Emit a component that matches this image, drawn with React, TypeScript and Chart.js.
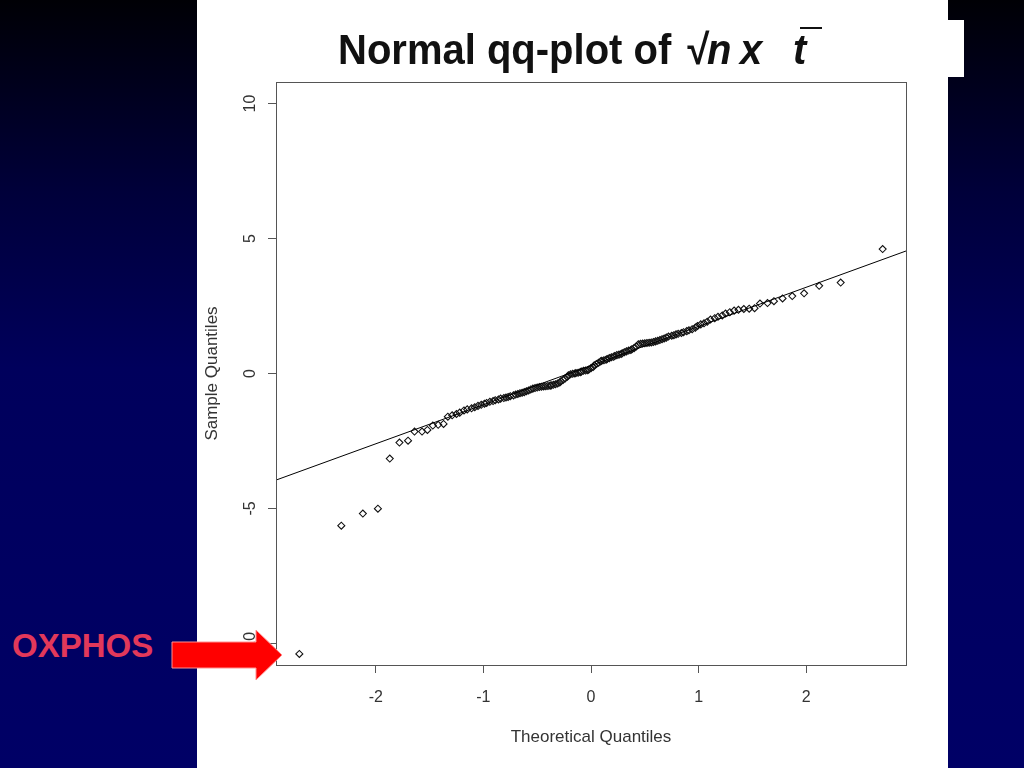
import React, { useEffect, useRef } from "react";
import { Chart, registerables } from "chart.js";

Chart.register(...registerables);

// Theoretical normal quantiles (x) of the 147 gene-set statistics
const theoreticalQuantiles = [
  -2.71, -2.32, -2.12, -1.98, -1.87, -1.78, -1.7, -1.64, -1.57, -1.52,
  -1.47, -1.42, -1.37, -1.33, -1.29, -1.25, -1.22, -1.18, -1.15, -1.11,
  -1.08, -1.05, -1.02, -0.99, -0.97, -0.94, -0.91, -0.89, -0.86, -0.84,
  -0.81, -0.79, -0.77, -0.75, -0.72, -0.7, -0.68, -0.66, -0.64, -0.62,
  -0.6, -0.58, -0.56, -0.54, -0.52, -0.5, -0.48, -0.46, -0.44, -0.42,
  -0.4, -0.38, -0.37, -0.35, -0.33, -0.31, -0.29, -0.28, -0.26, -0.24,
  -0.22, -0.21, -0.19, -0.17, -0.15, -0.14, -0.12, -0.1, -0.09, -0.07,
  -0.05, -0.03, -0.02, 0.0,
  0.02, 0.03, 0.05, 0.07, 0.09, 0.1, 0.12, 0.14, 0.15, 0.17,
  0.19, 0.21, 0.22, 0.24, 0.26, 0.28, 0.29, 0.31, 0.33, 0.35,
  0.37, 0.38, 0.4, 0.42, 0.44, 0.46, 0.48, 0.5, 0.52, 0.54,
  0.56, 0.58, 0.6, 0.62, 0.64, 0.66, 0.68, 0.7, 0.72, 0.75,
  0.77, 0.79, 0.81, 0.84, 0.86, 0.89, 0.91, 0.94, 0.97, 0.99,
  1.02, 1.05, 1.08, 1.11, 1.15, 1.18, 1.22, 1.25, 1.29, 1.33,
  1.37, 1.42, 1.47, 1.52, 1.57, 1.64, 1.7, 1.78, 1.87, 1.98,
  2.12, 2.32, 2.71,
];

// Sample quantiles (y), sorted
const sampleQuantiles = [
  -10.39, -5.64, -5.19, -5.01, -3.15, -2.56, -2.49, -2.15, -2.15, -2.09,
  -1.93, -1.9, -1.87, -1.6, -1.55, -1.5, -1.45, -1.37, -1.33, -1.29,
  -1.25, -1.2, -1.16, -1.12, -1.09, -1.05, -1.02, -0.99, -0.96, -0.93,
  -0.91, -0.89, -0.87, -0.84, -0.81, -0.78, -0.76, -0.73, -0.71, -0.69,
  -0.66, -0.63, -0.59, -0.56, -0.54, -0.52, -0.5, -0.49, -0.48, -0.47,
  -0.46, -0.45, -0.44, -0.42, -0.4, -0.37, -0.33, -0.29, -0.24, -0.18,
  -0.12, -0.07, -0.03, -0.01, 0.0, 0.02, 0.03, 0.05, 0.07, 0.1,
  0.11, 0.12, 0.15, 0.2,
  0.24, 0.3, 0.35, 0.4, 0.45, 0.47, 0.49, 0.51, 0.54, 0.57,
  0.6, 0.62, 0.65, 0.68, 0.7, 0.72, 0.75, 0.79, 0.82, 0.85,
  0.87, 0.9, 0.94, 1.0, 1.08, 1.1, 1.11, 1.12, 1.13, 1.14,
  1.15, 1.17, 1.19, 1.21, 1.24, 1.27, 1.3, 1.33, 1.37, 1.4,
  1.42, 1.45, 1.47, 1.5, 1.53, 1.57, 1.6, 1.64, 1.7, 1.76,
  1.82, 1.86, 1.92, 2.0, 2.05, 2.1, 2.15, 2.22, 2.27, 2.33,
  2.36, 2.39, 2.4, 2.42, 2.59, 2.61, 2.68, 2.78, 2.87, 2.97,
  3.25, 3.37, 4.61,
];

// qqline through the quartiles
const qqLineIntercept = 0.295;
const qqLineSlope = 1.45;

const xLimits = [-2.927, 2.927];
const yLimits = [-10.8, 10.8];
const xTickStep = 1;
const yTickStep = 5;

const xAxisTitle = "Theoretical Quantiles";
const yAxisTitle = "Sample Quantiles";

const FONT = "'Liberation Sans', Arial, sans-serif";

const boxPlugin = {
  id: "rbox",
  afterDatasetsDraw(chart: any) {
    const { ctx, chartArea } = chart;
    const { left, top, right, bottom } = chartArea;
    ctx.save();
    ctx.strokeStyle = "#555";
    ctx.lineWidth = 1;
    ctx.strokeRect(Math.round(left) + 0.5, Math.round(top) + 0.5, Math.round(right - left), Math.round(bottom - top));
    ctx.restore();
  },
};

function QQChart() {
  const ref = useRef<HTMLCanvasElement | null>(null);
  useEffect(() => {
    if (!ref.current) return;
    const points = theoreticalQuantiles.map((x, i) => ({ x, y: sampleQuantiles[i] }));
    const linePts = xLimits.map((x) => ({ x, y: qqLineIntercept + qqLineSlope * x }));
    const chart = new Chart(ref.current, {
      type: "scatter",
      data: {
        datasets: [
          {
            type: "line",
            data: linePts,
            borderColor: "#000",
            borderWidth: 1,
            pointRadius: 0,
            fill: false,
          } as any,
          {
            data: points,
            pointStyle: "rectRot",
            pointRadius: 3.5,
            pointBorderWidth: 1.1,
            pointBorderColor: "#111",
            pointBackgroundColor: "rgba(255,255,255,0)",
            borderColor: "#111",
            backgroundColor: "rgba(255,255,255,0)",
          } as any,
        ],
      },
      options: {
        animation: false,
        responsive: false,
        devicePixelRatio: 1,
        layout: { padding: { top: 82, right: 42, left: 0, bottom: 0 } },
        plugins: { legend: { display: false }, tooltip: { enabled: false } },
        scales: {
          x: {
            type: "linear",
            min: xLimits[0],
            max: xLimits[1],
            afterFit: (s: any) => {
              s.height = 103;
            },
            ticks: {
              stepSize: xTickStep,
              includeBounds: false,
              color: "#333",
              font: { family: FONT, size: 16 },
              padding: 15,
              callback: (v: any) => String(v),
            },
            grid: { drawOnChartArea: false, drawTicks: true, tickLength: 8, color: "#555", lineWidth: 1 },
            border: { display: false },
            title: {
              display: true,
              text: xAxisTitle,
              color: "#333",
              font: { family: FONT, size: 17 },
              padding: { top: 0, bottom: 20 },
            },
          },
          y: {
            type: "linear",
            min: yLimits[0],
            max: yLimits[1],
            afterFit: (s: any) => {
              s.width = 79;
            },
            ticks: {
              stepSize: yTickStep,
              includeBounds: false,
              minRotation: 90,
              maxRotation: 90,
              crossAlign: "center",
              color: "#333",
              font: { family: FONT, size: 16 },
              padding: 6,
              callback: (v: any) => String(v),
            },
            grid: { drawOnChartArea: false, drawTicks: true, tickLength: 8, color: "#555", lineWidth: 1 },
            border: { display: false },
            title: {
              display: true,
              text: yAxisTitle,
              color: "#333",
              font: { family: FONT, size: 17 },
              padding: { top: 5, bottom: 0 },
            },
          },
        },
      } as any,
      plugins: [boxPlugin],
    });
    return () => chart.destroy();
  }, []);
  return <canvas ref={ref} width={751} height={768} style={{ display: "block", width: 751, height: 768 }} />;
}

const titleStyle: React.CSSProperties = {
  position: "absolute",
  top: 30,
  fontSize: 40,
  lineHeight: "40px",
  fontWeight: "bold",
  color: "#111",
  whiteSpace: "pre",
  transform: "scaleY(1.06)",
  transformOrigin: "0 34px",
};

export default function App() {
  return (
    <div
      style={{
        position: "fixed",
        left: 0,
        top: 0,
        width: 1024,
        height: 768,
        overflow: "hidden",
        background: "linear-gradient(to bottom, #000005 0%, #00003a 25%, #00005c 48%, #000066 100%)",
        fontFamily: FONT,
      }}
    >
      <div style={{ position: "absolute", left: 197, top: 0, width: 751, height: 768, background: "#fff" }} />
      <div style={{ position: "absolute", left: 900, top: 20, width: 64, height: 57, background: "#fff" }} />
      <div style={{ position: "absolute", left: 197, top: 0 }}>
        <QQChart />
      </div>
      <div style={{ ...titleStyle, left: 338 }}>Normal qq-plot of</div>
      <div style={{ ...titleStyle, left: 685, fontStyle: "italic" }}>√n</div>
      <div style={{ ...titleStyle, left: 740, fontStyle: "italic" }}>x</div>
      <div style={{ ...titleStyle, left: 793, fontStyle: "italic" }}>t</div>
      <div style={{ position: "absolute", left: 800, top: 27, width: 22, height: 2, background: "#111" }} />
      <div
        style={{
          position: "absolute",
          left: 12,
          top: 629,
          fontSize: 33,
          lineHeight: "33px",
          fontWeight: "bold",
          color: "#e2385a",
        }}
      >
        OXPHOS
      </div>
      <svg
        width={1024}
        height={768}
        style={{ position: "absolute", left: 0, top: 0, pointerEvents: "none" }}
      >
        <polygon
          points="172,642 256,642 256,630 282,655 256,680 256,668 172,668"
          fill="#ff0000"
          stroke="#ff9090"
          strokeWidth={1}
        />
      </svg>
    </div>
  );
}
